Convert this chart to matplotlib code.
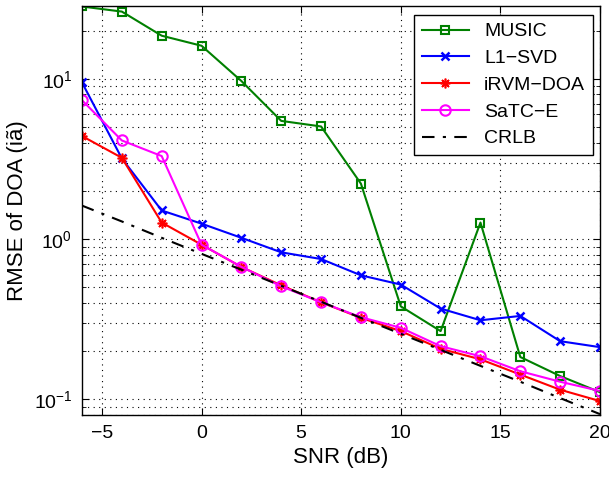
import matplotlib
matplotlib.use("Agg")
import matplotlib.pyplot as plt
from matplotlib.ticker import LogLocator, NullFormatter

plt.rcParams['font.family'] = ['Liberation Sans', 'DejaVu Sans']
plt.rcParams['mathtext.fontset'] = 'custom'
plt.rcParams['mathtext.rm'] = 'Liberation Sans'
plt.rcParams['mathtext.it'] = 'Liberation Sans:italic'

snr = [-6, -4, -2, 0, 2, 4, 6, 8, 10, 12, 14, 16, 18, 20]
music = [28.3, 26.3, 18.6, 16.1, 9.7, 5.47, 5.05, 2.22, 0.381, 0.267, 1.27, 0.184, 0.14, 0.111]
l1svd = [9.5, 3.19, 1.51, 1.25, 1.02, 0.828, 0.752, 0.595, 0.521, 0.369, 0.312, 0.332, 0.231, 0.212]
irvm = [4.4, 3.22, 1.27, 0.924, 0.671, 0.515, 0.404, 0.323, 0.267, 0.207, 0.178, 0.143, 0.115, 0.0977]
satce = [7.36, 4.13, 3.3, 0.924, 0.672, 0.508, 0.404, 0.326, 0.28, 0.215, 0.186, 0.15, 0.129, 0.113]
crlb = [1.62, 1.29, 1.02, 0.81, 0.645, 0.512, 0.407, 0.323, 0.257, 0.204, 0.162, 0.129, 0.102, 0.081]

xticks = [-5, 0, 5, 10, 15, 20]

fig = plt.figure(figsize=(6.09, 4.78), dpi=100)
ax = fig.add_axes([82/609, 63/478, 518/609, 409/478])

ax.semilogy(snr, music, '-s', color='#008000', lw=1.5, ms=6, mfc='none', mew=1.5, label='MUSIC')
ax.semilogy(snr, l1svd, '-x', color='#0000ff', lw=1.5, ms=5.5, mew=1.8, label='L1\u2212SVD')
ax.semilogy(snr, irvm, '-', marker=(8, 2, 0), color='#ff0000', lw=1.5, ms=7, mew=1.2, label='iRVM\u2212DOA')
ax.semilogy(snr, satce, '-o', color='#ff00ff', lw=1.5, ms=7.5, mfc='none', mew=1.5, label='SaTC\u2212E')
ax.semilogy(snr, crlb, color='black', lw=1.5, ls=(0, (6, 4, 1.5, 4)), label='CRLB')

ax.set_xlim(-6, 20)
ax.set_ylim(0.08, 28.5)
ax.set_xticks(xticks)
ax.yaxis.set_major_locator(LogLocator(base=10))
ax.yaxis.set_minor_locator(LogLocator(base=10, subs=range(2, 10)))
ax.yaxis.set_minor_formatter(NullFormatter())

ax.grid(True, which='major', ls=(0, (1, 4)), color='black', lw=0.8)
ax.grid(True, which='minor', axis='y', ls=(0, (1, 4)), color='black', lw=0.8)
ax.tick_params(which='both', direction='in', top=True, right=True, labelsize=14)
ax.tick_params(which='major', length=5, pad=7)
ax.tick_params(which='minor', length=3)
for s in ax.spines.values():
    s.set_linewidth(1.0)

ax.set_xlabel('SNR (dB)', fontsize=16, labelpad=4)
ax.set_ylabel('RMSE of DOA (iã)', fontsize=16, labelpad=4)

leg = ax.legend(loc='upper right', fontsize=14, fancybox=False, edgecolor='black',
                framealpha=1, handlelength=2.4, handletextpad=0.8, borderpad=0.4,
                labelspacing=0.47, borderaxespad=0,
                bbox_to_anchor=(0.9865, 0.978))
leg.get_frame().set_linewidth(1.0)

fig.savefig('out.png', dpi=100)
